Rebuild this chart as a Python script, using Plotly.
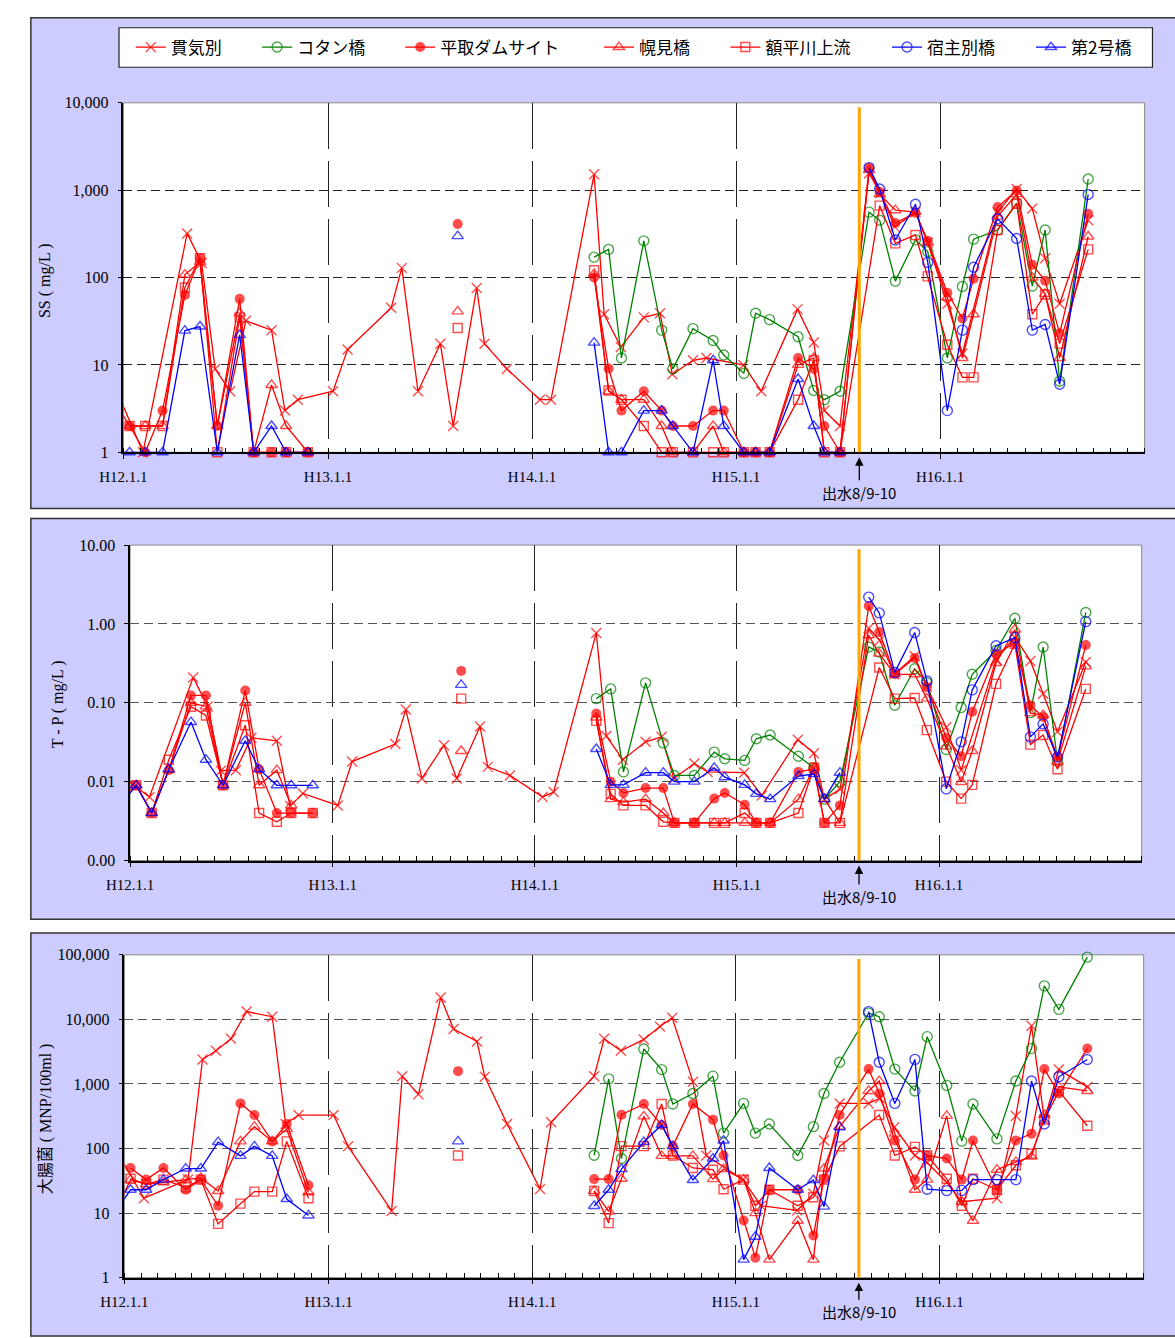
import plotly.graph_objects as go
import pandas as pd

W, H = 1175, 1338

# ---------------- data ----------------
D00 = ['2000-01-12', '2000-02-09', '2000-03-11', '2000-04-20', '2000-05-17', '2000-06-17',
       '2000-07-27', '2000-08-21', '2000-09-22', '2000-10-18', '2000-11-26']
D01 = ['2001-08-21']
D02 = ['2002-04-22', '2002-05-18', '2002-06-10', '2002-07-20', '2002-08-21', '2002-09-10',
       '2002-10-16', '2002-11-21', '2002-12-10', '2003-01-15', '2003-02-05', '2003-03-02',
       '2003-04-22', '2003-05-20', '2003-06-08', '2003-07-06']
D03 = ['2003-08-27', '2003-09-15', '2003-10-13', '2003-11-18', '2003-12-10', '2004-01-14',
       '2004-02-10', '2004-03-01', '2004-04-13', '2004-05-17', '2004-06-14', '2004-07-07',
       '2004-08-02', '2004-09-22']

# 貫気別
KK_dates = ['1999-12-15', '2000-02-05', '2000-04-24', '2000-05-20', '2000-06-13', '2000-07-10',
            '2000-08-07', '2000-09-22', '2000-10-16', '2000-11-08',
            '2001-01-10', '2001-02-05', '2001-04-24', '2001-05-13', '2001-06-11', '2001-07-21',
            '2001-08-13', '2001-09-24', '2001-10-08', '2001-11-17',
            '2002-01-15', '2002-02-04', '2002-04-22', '2002-05-10', '2002-06-09', '2002-07-20',
            '2002-08-18', '2002-09-09', '2002-10-16', '2002-11-09',
            '2003-01-14', '2003-02-15', '2003-04-21', '2003-05-20', '2003-06-08', '2003-07-06',
            '2003-08-27', '2003-09-16', '2003-10-12', '2003-11-18', '2003-12-10', '2004-01-14',
            '2004-02-10', '2004-04-13', '2004-05-17', '2004-06-14', '2004-07-07', '2004-08-02',
            '2004-09-22']
KK_ss = [6, 1, 320, 147, 9, 5, 32, 25, 3, 4,
         5, 15, 45, 129, 5, 17.5, 2, 76, 17.5, 9,
         4, 4, 1520, 38, 16, 35, 39, 7.8, 11.3, 12,
         10, 5, 43.5, 18, 3, 2,
         1560, 930, 380, 560, 250, 50, 13.5, 560, 1030, 615, 166, 50, 452]
KK_tp = [0.012, 0.0064, 0.21, 0.09, 0.0138, 0.014, 0.036, 0.033, 0.0049, 0.0071,
         0.005, 0.018, 0.030, 0.082, 0.011, 0.029, 0.011, 0.050, 0.0154, 0.012,
         0.0064, 0.0074, 0.77, 0.038, 0.019, 0.032, 0.037, 0.011, 0.017, 0.0133,
         0.013, 0.0067, 0.034, 0.023, 0.006, 0.008,
         0.88, 0.62, 0.23, 0.39, 0.16, 0.049, 0.014, 0.35, 0.68, 0.34, 0.13, 0.043, 0.33]
KK_ec = [100, 17, 33, 2390, 3270, 5000, 13200, 11000, 240, 330,
         330, 108, 10.8, 1320, 690, 21800, 7100, 4550, 1290, 240,
         23.6, 255, 1320, 5000, 3270, 4900, 7750, 10600, 1085, 78,
         33, 13, 11, 20, 133, 500,
         500, 600, 214, 78, 60, 30, 15, 17, 320, 7950, 280, 1670, 900]

# コタン橋
KT_dates = D02 + D03
KT_ss = [171, 210, 12, 263, 25, 9, 26, 19, 13, 8, 39, 33, 21, 5.1, 4, 5,
         560, 452, 91, 270, 198, 12, 79, 275, 350, 710, 80, 350, 6.5, 1340]
KT_tp = [0.113, 0.15, 0.0133, 0.179, 0.031, 0.012, 0.012, 0.0237, 0.0195, 0.0186, 0.035, 0.039,
         0.021, 0.015, 0.006, 0.01,
         0.51, 0.44, 0.093, 0.27, 0.18, 0.0256, 0.087, 0.23, 0.46, 1.18, 0.075, 0.51, 0.018, 1.40]
KT_ec = [78.5, 1200, 70, 3480, 1670, 490, 710, 1320, 173, 500, 173, 240, 78, 218, 710, 2170,
         12500, 11000, 1700, 780, 5400, 950, 130, 490, 141, 1110, 3530, 33000, 14300, 92000]

# 平取ダムサイト
HD_dates = D00 + D01 + D02 + D03
HD_ss = [2, 1, 3, 63, 166, 2, 57, 1, 1, 1, 1,
         410,
         100, 9.1, 3, 5, 3, 2, 2, 3, 3, 1, 1, 1, 12, 9, 2, 1,
         1810, 950, 420, 550, 263, 67, 34, 97, 640, 990, 140, 92, 23, 536]
HD_tp = [0.009, 0.004, 0.014, 0.124, 0.124, 0.009, 0.143, 0.0144, 0.004, 0.004, 0.004,
         0.254,
         0.073, 0.01, 0.0072, 0.0083, 0.0083, 0.003, 0.003, 0.0061, 0.0072, 0.0051, 0.003, 0.003,
         0.0133, 0.0144, 0.003, 0.005,
         1.69, 0.79, 0.23, 0.37, 0.158, 0.036, 0.021, 0.077, 0.42, 0.57, 0.093, 0.066, 0.0205, 0.54]
HD_ec = [50, 33, 50, 23, 33, 13, 500, 330, 129, 240, 27,
         1580,
         33.6, 33.6, 333, 490, 232, 109, 490, 280, 78, 7.7, 2.04, 23, 23, 4.5, 33.6, 330,
         1700, 710, 133, 33, 78, 70, 33, 133, 23, 133, 170, 1700, 710, 3530]

# 幌見橋
HM_dates = ['1999-12-15'] + D00 + D01 + D02 + D03
HM_ss = [4, 2, 2, 2, 108, 150, 2, 39, 1, 5.9, 2, 1,
         41,
         110, 5, 4, 4, 2, 1, 1, 2, 1, 1, 1, 1, 10, 12, 1, 1,
         1700, 900, 590, 560, 250, 59, 12, 38, 500, 900, 100, 65, 12, 295]
HM_tp = [0.006, 0.009, 0.004, 0.014, 0.10, 0.09, 0.009, 0.10, 0.009, 0.014, 0.005, None,
         0.0245,
         0.065, 0.006, 0.0055, 0.006, 0.004, 0.003, 0.003, 0.003, 0.003, 0.003, 0.003, 0.003,
         0.006, 0.015, 0.006, 0.003,
         0.72, 0.42, 0.23, 0.23, 0.113, 0.028, 0.0099, 0.0245, 0.32, 0.85, 0.074, 0.07, 0.018, 0.29]
HM_ec = [10, 33, 28, 30, 33, 35, 22, 129, 218, 129, 200, 21,
         None,
         22, 10.6, 34, 315, 77, 77, 77, 33.6, 48, 33, 10, 1.9, 7.6, 1.9, 49, 218,
         780, 1110, 170, 23, 33, 320, 15, 7.6, 47, 62, 75, 330, 900, 780]

# 額平川上流
NK_dates = D00 + D01 + D02 + D03[1:]
NK_ss = [2, 2, 2, 77, 166, 1, 35, 1, 1, 1, 1,
         26.4,
         121, 5.1, 4, 2, 1, 1, 1, 1, 1, 1, 1, 1, 4, 11.3, 1, 1,
         665, 246, 307, 103, 17, 7.2, 7.2, 350, 700, 38, 64, 17.5, 210]
NK_tp = [0.009, 0.004, 0.019, 0.089, 0.069, 0.009, 0.052, 0.004, 0.0031, 0.004, 0.004,
         0.113,
         0.059, 0.007, 0.005, 0.005, 0.0031, 0.003, 0.003, 0.003, 0.003, 0.004, 0.003, 0.003,
         0.004, 0.015, 0.003, 0.003,
         0.28, 0.113, 0.115, 0.045, 0.01, 0.0061, 0.0091, 0.174, 0.56, 0.0295, 0.039, 0.0144, 0.15]
NK_ec = [34, 28, 33, 25, 33, 6.8, 14, 21.5, 21.5, 129, 17,
         78,
         22, 7, 109, 109, 490, 78, 50, 47, 23.4, 33, 13, 23, 13, 17.6, 33, 108,
         330, 78, 106, 78, 34, 13, 34, 23, 55, 83, 280, 775, 225]

# 宿主別橋
SB_dates = D03
SB_ss = [1810, 1030, 269, 690, 149, 3, 25, 131, 470, 280, 25, 29, 6, 890]
SB_tp = [2.19, 1.38, 0.243, 0.78, 0.19, 0.0081, 0.032, 0.146, 0.53, 0.67, 0.037, 0.054, 0.0205, 1.07]
SB_ec = [13200, 2170, 500, 2400, 23.4, 22.3, 22.5, 33, 33, 33, 1110, 240, 1290, 2390]

# 第2号橋
N2_dates = ['1999-12-15'] + D00 + D01 + D02
N2_ss = [1, 1, 1, 1, 24.7, 27.5, 1, 22, 1, 2, 1, 1,
         298,
         18, 1, 1, 3, 3, 2, 1, 11.3, 2, 1, 1, 1, 6.9, 2, 1, 1]
N2_tp = [0.005, 0.009, 0.004, 0.0144, 0.057, 0.019, 0.009, 0.033, 0.0144, 0.009, 0.009, 0.009,
         0.169,
         0.026, 0.0091, 0.0091, 0.013, 0.013, 0.01, 0.01, 0.015, 0.0114, 0.0091, 0.007, 0.006,
         0.0118, 0.0125, 0.006, 0.013]
N2_ec = [10, 23, 23, 33, 49, 49, 126, 77, 108, 77, 16.5, 9.2,
         129,
         12.9, 23, 48, 126, 232, 109, 32.5, 70, 133, 1.9, 4.3, 50, 23, 32.5, 12.6, 214]

YEAR_TICKS = ['2000-01-01', '2001-01-01', '2002-01-01', '2003-01-01', '2004-01-01']
YEAR_LABELS = ['H12.1.1', 'H13.1.1', 'H14.1.1', 'H15.1.1', 'H16.1.1']
FLOOD_DATE = '2003-08-09 12:00'
FLOOD_LABEL = '出水8/9-10'

SS_VALS = [1, 10, 100, 1000, 10000]
SS_TEXT = ['1', '10', '100', '1,000', '10,000']
TP_VALS = [0.001, 0.01, 0.1, 1, 10]
TP_TEXT = ['0.00', '0.01', '0.10', '1.00', '10.00']
EC_VALS = [1, 10, 100, 1000, 10000, 100000]
EC_TEXT = ['1', '10', '100', '1,000', '10,000', '100,000']

RED, GREEN, BLUE = '#FF0000', '#008000', '#0000FF'
SERIES = [
    ('貫気別', KK_dates, KK_ss, KK_tp, KK_ec, RED, 'x-thin-open', 10),
    ('コタン橋', KT_dates, KT_ss, KT_tp, KT_ec, GREEN, 'circle-open', 10),
    ('平取ダムサイト', HD_dates, HD_ss, HD_tp, HD_ec, RED, 'circle', 10),
    ('幌見橋', HM_dates, HM_ss, HM_tp, HM_ec, RED, 'triangle-up-open', 10),
    ('額平川上流', NK_dates, NK_ss, NK_tp, NK_ec, RED, 'square-open', 9),
    ('宿主別橋', SB_dates, SB_ss, SB_tp, SB_ec, BLUE, 'circle-open', 10),
    ('第2号橋', N2_dates, N2_ss, N2_tp, N2_ec, BLUE, 'triangle-up-open', 10),
]
LEGEND_PX = [115, 244, 390, 593, 722, 887, 1034]

# ---------------- layout geometry (px) ----------------
PANELS = [  # plot-area left, right, top, bottom ; frame top, bottom
    dict(l=101.5, r=1144, t=96, b=450, ft=10, fb=507),
    dict(l=108.3, r=1141, t=544, b=863.5, ft=517, fb=923),
    dict(l=102.5, r=1143, t=959, b=1286, ft=937, fb=1345),
]


def split(dates, vals, base):
    xs, ys, sz = [], [], []
    prev = None
    for d, v in zip(dates, vals):
        if v is None:
            continue
        t = pd.Timestamp(d)
        if prev is not None and (t - prev).days > 150:
            xs.append(None); ys.append(None); sz.append(base)
        xs.append(d); ys.append(v)
        sz.append(0 if t < pd.Timestamp('2000-01-01') else base)
        prev = t
    return xs, ys, sz


fig = go.Figure()
for pi in range(3):
    xa = 'x' if pi == 0 else 'x%d' % (pi + 1)
    ya = 'y' if pi == 0 else 'y%d' % (pi + 1)
    for si, (name, dates, ss, tp, ec, col, sym, msz) in enumerate(SERIES):
        vals = [ss, tp, ec][pi]
        xs, ys, sz = split(dates, vals, msz)
        filled = sym == 'circle'
        fig.add_trace(go.Scatter(
            x=xs, y=ys, xaxis=xa, yaxis=ya, mode='lines+markers', name=name,
            line=dict(color=col, width=1.3),
            marker=dict(symbol=sym, size=sz, color=col,
                        line=dict(color=col, width=0 if filled else 1.4)),
            cliponaxis=False, showlegend=(pi == 0),
            legend='legend' if si == 0 else 'legend%d' % (si + 1),
        ))


def xaxis(p, anchor):
    return dict(domain=[p['l'] / W, p['r'] / W], anchor=anchor, type='date',
                range=['2000-01-01', '2005-01-01'],
                tickmode='array', tickvals=YEAR_TICKS, ticktext=YEAR_LABELS,
                ticks='outside', ticklen=5, tickcolor='black', tickwidth=1,
                showline=True, linecolor='black', linewidth=1.5, zeroline=False,
                showgrid=True, gridcolor='#222222', gridwidth=1, griddash='46px,12px',
                minor=dict(dtick='M1', tick0='2000-01-01', ticks='inside', ticklen=5,
                           tickcolor='black', tickwidth=1, showgrid=False),
                tickfont=dict(family='Liberation Serif', size=15, color='black'),
                ticklabelstandoff=5, fixedrange=True)


def yaxis(p, anchor, rng, vals, texts, gc):
    return dict(domain=[1 - p['b'] / H, 1 - p['t'] / H], anchor=anchor, type='log', range=rng,
                tickmode='array', tickvals=vals, ticktext=texts,
                ticks='outside', ticklen=4, tickcolor='black',
                showline=True, linecolor='black', linewidth=1.5, zeroline=False,
                showgrid=True, gridcolor=gc, gridwidth=1, griddash='9px,5px',
                tickfont=dict(family='Liberation Serif', size=16, color='black'),
                ticklabelstandoff=6, fixedrange=True)


layout = dict(
    width=W, height=H, autosize=False, margin=dict(l=0, r=0, t=0, b=0),
    paper_bgcolor='white', plot_bgcolor='white',
    xaxis=xaxis(PANELS[0], 'y'), yaxis=yaxis(PANELS[0], 'x', [0, 4], SS_VALS, SS_TEXT, '#222222'),
    xaxis2=xaxis(PANELS[1], 'y2'), yaxis2=yaxis(PANELS[1], 'x2', [-3, 1], TP_VALS, TP_TEXT, '#555555'),
    xaxis3=xaxis(PANELS[2], 'y3'), yaxis3=yaxis(PANELS[2], 'x3', [0, 5], EC_VALS, EC_TEXT, '#555555'),
)
for si, px in enumerate(LEGEND_PX):
    key = 'legend' if si == 0 else 'legend%d' % (si + 1)
    layout[key] = dict(x=(px - 6) / W, xanchor='left', y=1 - 40 / H, yanchor='middle',
                       orientation='h', bgcolor='rgba(0,0,0,0)', borderwidth=0,
                       font=dict(family='Noto Sans CJK JP', size=17, color='black'),
                       itemwidth=30, itemclick=False, itemdoubleclick=False)
fig.update_layout(**layout)

shapes = []
for p in PANELS:
    shapes.append(dict(type='rect', xref='paper', yref='paper', x0=7 / W, x1=1.02,
                       y0=1 - p['fb'] / H, y1=1 - p['ft'] / H, fillcolor='#CCCCFF',
                       line=dict(color='#333333', width=1.5), layer='below'))
for pi in range(3):
    sfx = '' if pi == 0 else str(pi + 1)
    shapes.append(dict(type='rect', xref='x%s domain' % sfx, yref='y%s domain' % sfx,
                       x0=0, x1=1, y0=0, y1=1, fillcolor='white',
                       line=dict(color='#888888', width=1), layer='below'))
shapes.append(dict(type='rect', xref='paper', yref='paper', x0=97 / W, x1=1152 / W,
                   y0=1 - 60 / H, y1=1 - 20 / H, fillcolor='white',
                   line=dict(color='#222222', width=1.2), layer='below'))
for pi in range(3):
    sfx = '' if pi == 0 else str(pi + 1)
    shapes.append(dict(type='line', xref='x' + sfx, yref='y%s domain' % sfx,
                       x0=FLOOD_DATE, x1=FLOOD_DATE, y0=0, y1=0.987,
                       line=dict(color='#FFA500', width=3), layer='above'))
fig.update_layout(shapes=shapes)

ann = []
for pi, ay in enumerate([40, 36, 34]):
    sfx = '' if pi == 0 else str(pi + 1)
    ann.append(dict(x=FLOOD_DATE, y=0, xref='x' + sfx, yref='y%s domain' % sfx,
                    text=FLOOD_LABEL, showarrow=True, arrowhead=2, arrowsize=1.3,
                    arrowwidth=1.3, arrowcolor='black', ax=0, ay=ay, standoff=5,
                    font=dict(family='Noto Sans CJK JP', size=15, color='black')))
ytitles = [('SS ( mg/L )', 22, 276), ('T - P ( mg/L )', 35, 705), ('大腸菌 ( MNP/100ml )', 22, 1125)]
for txt, xp, yp in ytitles:
    ann.append(dict(x=xp / W, y=1 - yp / H, xref='paper', yref='paper', text=txt,
                    showarrow=False, textangle=-90, xanchor='center', yanchor='middle',
                    font=dict(family='Liberation Serif, Noto Sans CJK JP', size=16, color='black')))
fig.update_layout(annotations=ann)

fig.write_html('out.html',
               post_script="document.body.style.margin='0';document.body.style.overflow='hidden';")
